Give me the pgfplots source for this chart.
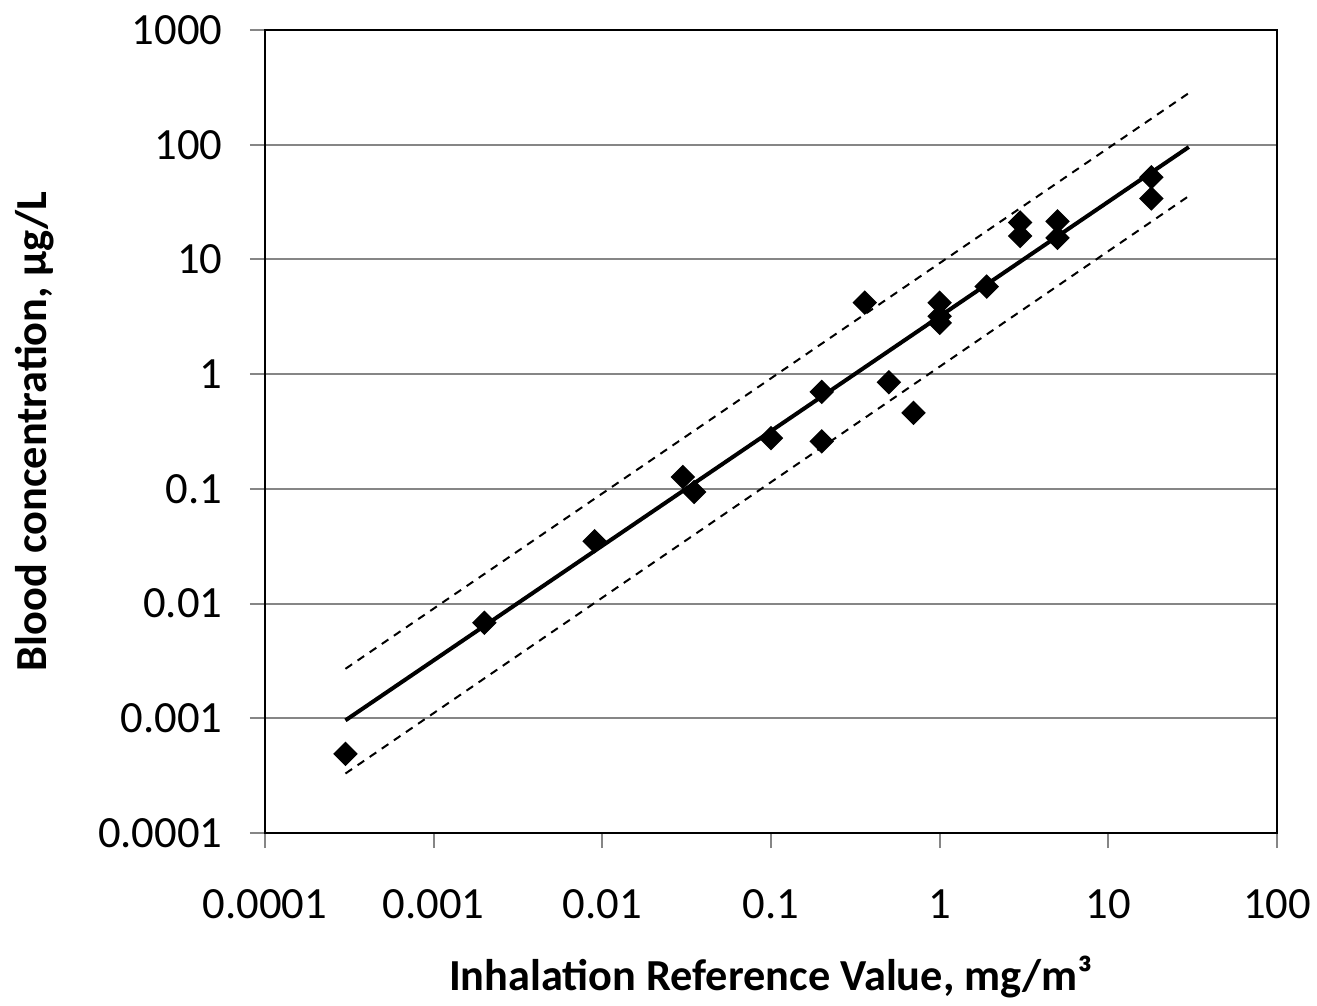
\documentclass[border=0pt]{standalone}
\usepackage{fontspec}
\setmainfont{Carlito}
\usepackage{pgfplots}
\pgfplotsset{compat=1.18}
\definecolor{gridgray}{RGB}{134,134,134}
\begin{document}
\begin{tikzpicture}[x=0.3pt,y=0.3pt]
\path[use as bounding box] (-265,-172) rectangle (1052,833);
\begin{axis}[
  at={(0,0)}, anchor=south west,
  scale only axis, width=303.6pt, height=240.9pt,
  xmode=log, ymode=log,
  xmin=1e-4, xmax=100, ymin=1e-4, ymax=1000,
  xtick={1e-4,1e-3,1e-2,1e-1,1,10,100},
  xticklabels={0.0001,0.001,0.01,0.1,1,10,100},
  ytick={1e-4,1e-3,1e-2,1e-1,1,10,100,1000},
  yticklabels={0.0001,0.001,0.01,0.1,1,10,100,1000},
  xtick pos=bottom, ytick pos=left,
  tick align=outside, major tick length=4.5pt,
  major tick style={gridgray, line width=0.6pt},
  minor tick style={draw=none},
  ymajorgrids, major grid style={gridgray, line width=0.6pt},
  axis line style={black, line width=0.6pt},
  tick label style={font=\fontsize{13.4}{15}\selectfont},
  xticklabel style={anchor=base, yshift=-21pt},
  yticklabel style={anchor=east, xshift=-4.7pt},
  xlabel={\bfseries Inhalation Reference Value, mg/m³},
  ylabel={\bfseries Blood concentration, µg/L},
  label style={font=\fontsize{13.3}{16}\selectfont},
  xlabel style={at={(axis description cs:0.5,0)}, anchor=base, yshift=-47.1pt},
  ylabel style={at={(axis description cs:-0.2273,0.5)}, anchor=center},
]
\addplot[only marks, mark=square*, mark size=2.4pt, mark options={rotate=45, fill=black, draw=black}] coordinates {
(0.0003,0.00049) (0.002,0.0068) (0.009,0.035) (0.03,0.127) (0.035,0.094)
(0.1,0.277) (0.2,0.70) (0.2,0.26) (0.36,4.2) (0.5,0.85) (0.7,0.46)
(1,4.2) (1,3.2) (1,2.8) (1.9,5.8) (3,21) (3,16) (5,21.5) (5,15.4)
(18,52) (18,34)
};
\addplot[black, line width=1.2pt, no marks] coordinates {(0.0003,0.00096) (30,95.5)};
\addplot[black, line width=0.6pt, no marks, dash pattern=on 2.4pt off 2pt] coordinates {(0.0003,0.0027) (30,282)};
\addplot[black, line width=0.6pt, no marks, dash pattern=on 2.4pt off 2pt] coordinates {(0.0003,0.00033) (30,35.7)};
\end{axis}
\end{tikzpicture}
\end{document}
